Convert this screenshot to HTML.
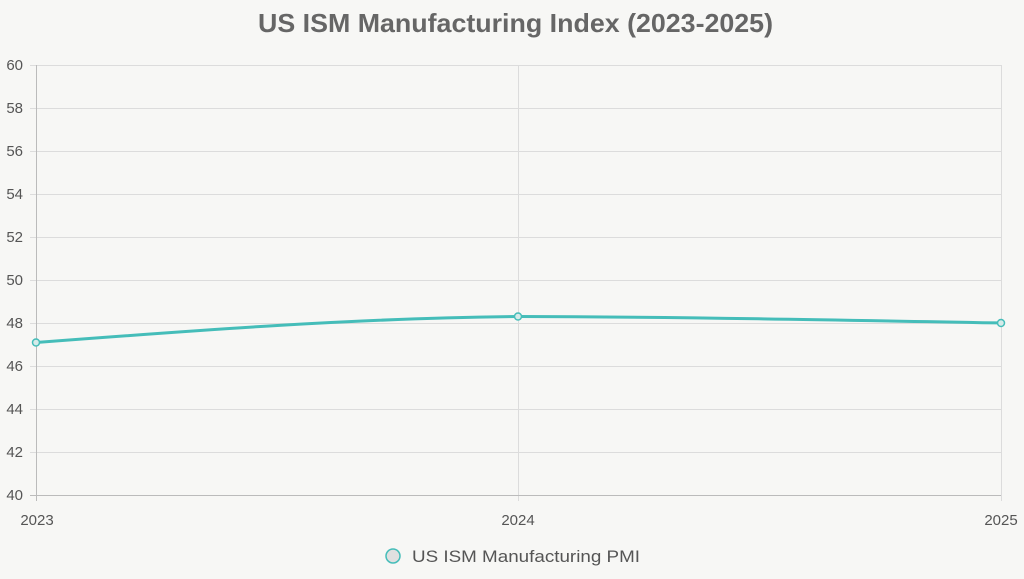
<!DOCTYPE html>
<html><head><meta charset="utf-8"><style>
html,body{margin:0;padding:0;background:#f7f7f5;}
svg{display:block;font-family:"Liberation Sans",sans-serif;}
</style></head><body>
<svg width="1024" height="579" viewBox="0 0 1024 579">
<rect width="1024" height="579" fill="#f7f7f5"/>
<text x="258" y="32" font-size="26" font-weight="bold" fill="#666" textLength="515" lengthAdjust="spacingAndGlyphs">US ISM Manufacturing Index (2023-2025)</text>
<g stroke="#dcdcdc" stroke-width="1">
<line x1="30" y1="65.5" x2="1001" y2="65.5"/>
<line x1="30" y1="108.5" x2="1001" y2="108.5"/>
<line x1="30" y1="151.5" x2="1001" y2="151.5"/>
<line x1="30" y1="194.5" x2="1001" y2="194.5"/>
<line x1="30" y1="237.5" x2="1001" y2="237.5"/>
<line x1="30" y1="280.5" x2="1001" y2="280.5"/>
<line x1="30" y1="323.5" x2="1001" y2="323.5"/>
<line x1="30" y1="366.5" x2="1001" y2="366.5"/>
<line x1="30" y1="409.5" x2="1001" y2="409.5"/>
<line x1="30" y1="452.5" x2="1001" y2="452.5"/>
<line x1="518.5" y1="65" x2="518.5" y2="501"/>
<line x1="1001.5" y1="65" x2="1001.5" y2="501"/>
</g>
<line x1="36.5" y1="65" x2="36.5" y2="501" stroke="#bbb"/>
<line x1="30" y1="495.5" x2="1001" y2="495.5" stroke="#bbb"/>
<g font-size="15" fill="#555" text-anchor="end">
<text x="23" y="70">60</text><text x="23" y="113">58</text><text x="23" y="156">56</text>
<text x="23" y="199">54</text><text x="23" y="242">52</text><text x="23" y="285">50</text>
<text x="23" y="328">48</text><text x="23" y="371">46</text><text x="23" y="414">44</text>
<text x="23" y="457">42</text><text x="23" y="500">40</text>
</g>
<g font-size="15" fill="#555" text-anchor="middle">
<text x="37" y="525">2023</text><text x="518" y="525">2024</text><text x="1001" y="525">2025</text>
</g>
<path d="M36,342.5 C200,330 360,318 518,316.5 C680,317 840,320 1001,323" fill="none" stroke="#45bdb9" stroke-width="3"/>
<g fill="#d6ebe9" stroke="#45bdb9" stroke-width="1.5">
<circle cx="36" cy="342.5" r="3.5"/><circle cx="518" cy="316.5" r="3.5"/><circle cx="1001" cy="323" r="3.5"/>
</g>
<circle cx="393" cy="556" r="7" fill="#e0e0e0" stroke="#45bdb9" stroke-width="1.5"/>
<text x="412" y="562" font-size="17" fill="#555" textLength="228" lengthAdjust="spacingAndGlyphs">US ISM Manufacturing PMI</text>
</svg>
</body></html>
